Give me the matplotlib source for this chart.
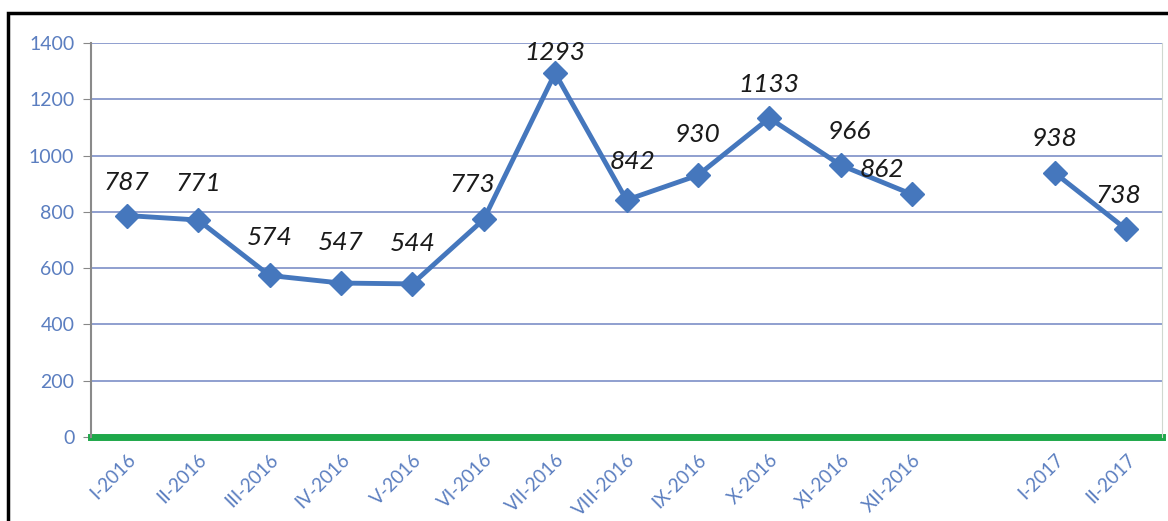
import matplotlib.pyplot as plt
import matplotlib.patches as patches
import numpy as np

months = ['I-2016', 'II-2016', 'III-2016', 'IV-2016', 'V-2016', 'VI-2016',
          'VII-2016', 'VIII-2016', 'IX-2016', 'X-2016', 'XI-2016', 'XII-2016',
          '', 'I-2017', 'II-2017']
values = [787, 771, 574, 547, 544, 773, 1293, 842, 930, 1133, 966, 862,
          np.nan, 938, 738]
yticks = [0, 200, 400, 600, 800, 1000, 1200, 1400]

# label offsets in points (dx, dy)
offsets = [(0, 24), (0, 26), (0, 27), (0, 29), (0, 29), (-8, 25), (0, 15),
           (4, 28), (0, 29), (0, 24), (6, 24), (-22, 18), (0, 0), (0, 25), (-6, 24)]

line_color = '#4577bd'
tick_color = '#5b7ec0'
grid_color = '#8f9fcf'

plt.rcParams['font.family'] = ['Lato', 'DejaVu Sans']

fig = plt.figure(figsize=(11.68, 5.21), dpi=100)
ax = fig.add_axes([91 / 1168, 1 - 437 / 521, (1162 - 91) / 1168, (437 - 43) / 521])

x = np.arange(len(months))
ax.plot(x, values, color=line_color, lw=3.5, marker='D', ms=12.5,
        markerfacecolor=line_color, markeredgecolor=line_color, zorder=3)

for xi, v, (dx, dy) in zip(x, values, offsets):
    if np.isnan(v):
        continue
    ax.annotate(str(int(v)), (xi, v), xytext=(dx, dy), textcoords='offset points',
                ha='center', va='center', fontsize=19, style='italic', color='#1a1a1a')

ax.set_xlim(-0.5, len(months) - 0.5)
ax.set_ylim(0, 1400)
ax.set_yticks(yticks)
ax.set_xticks(x)
ax.set_xticklabels(months, rotation=45, ha='right', rotation_mode='anchor')
ax.tick_params(axis='y', colors='#888888', labelcolor=tick_color, labelsize=14,
               length=6, pad=6)
ax.tick_params(axis='x', length=0, labelcolor=tick_color, labelsize=13.5, pad=10)

ax.grid(axis='y', color=grid_color, lw=1.4)
ax.set_axisbelow(True)
for s in ['top', 'bottom']:
    ax.spines[s].set_visible(False)
ax.spines['left'].set_color('#8a8a8a')
ax.spines['left'].set_linewidth(1.5)
ax.spines['right'].set_color('#d0d8d0')
ax.axhline(0, color='#1ea84a', lw=5, clip_on=False, zorder=2)

fig.patches.append(patches.Rectangle((8 / 1168, -0.1), 1.2, 1 - 13 / 521 + 0.1,
                                     transform=fig.transFigure, fill=False,
                                     edgecolor='black', lw=2.5))

fig.savefig('out.png', dpi=100)
